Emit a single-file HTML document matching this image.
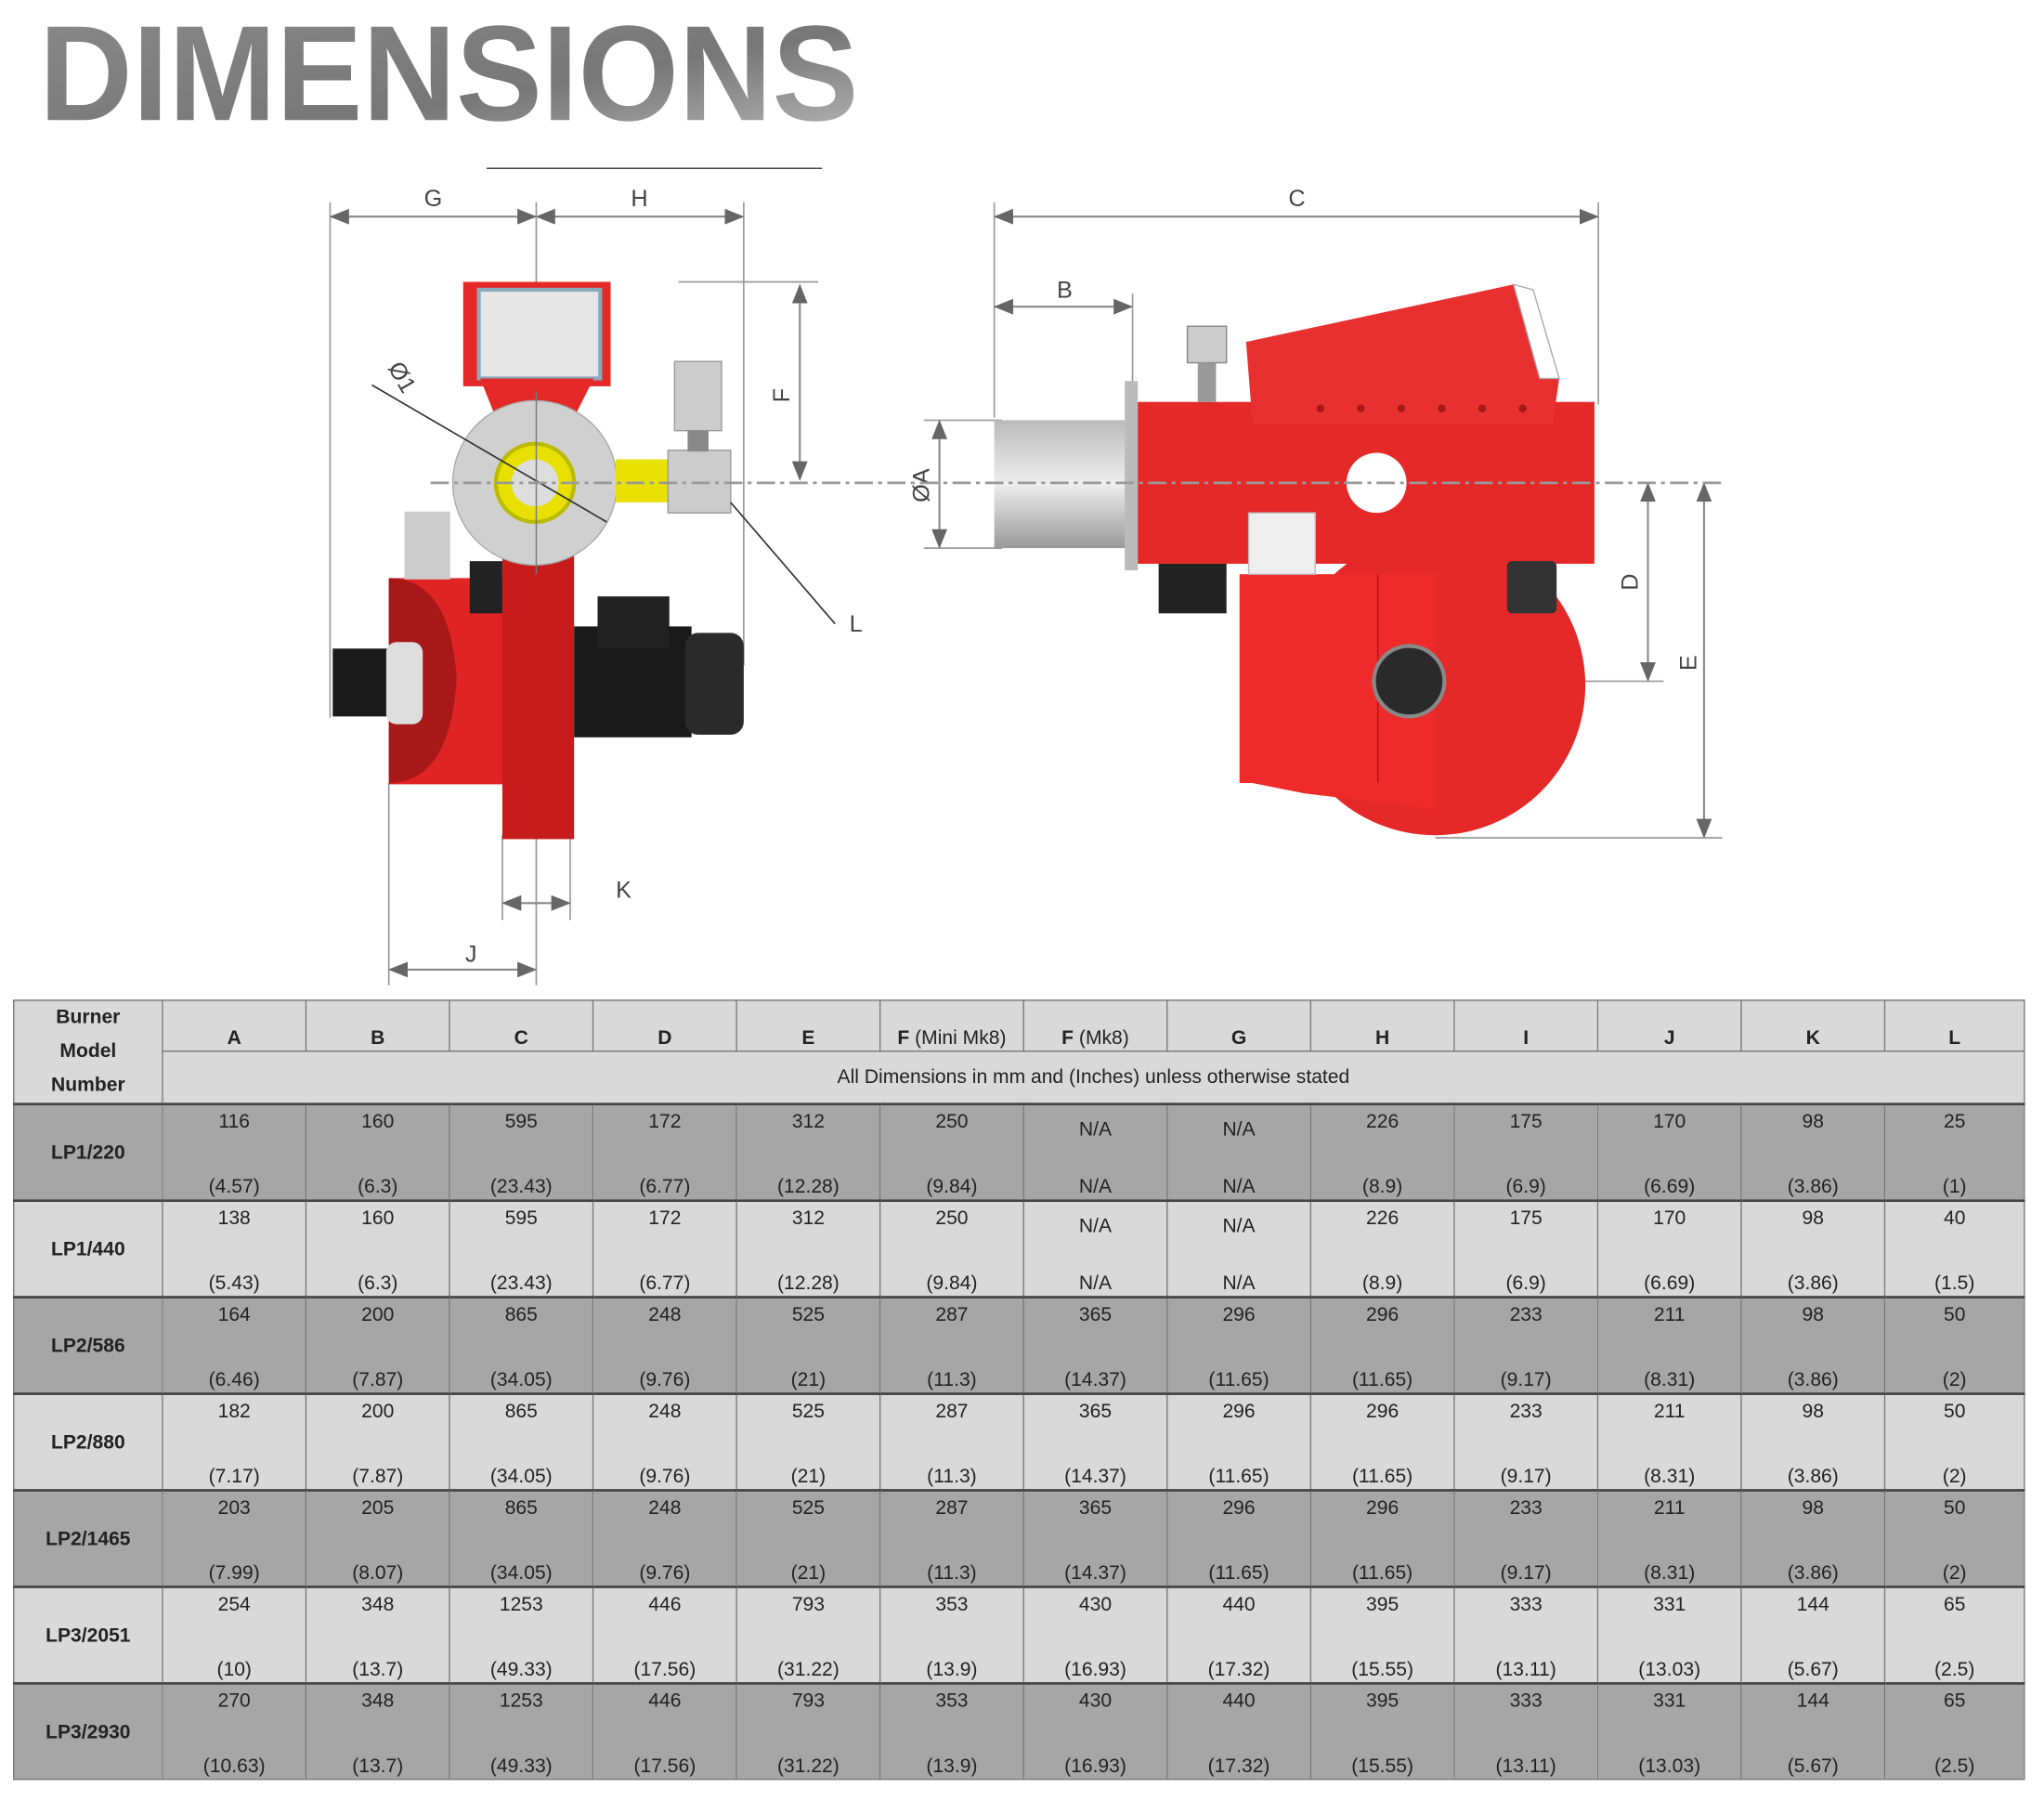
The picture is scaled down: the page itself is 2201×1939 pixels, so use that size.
<!DOCTYPE html>
<html><head><meta charset="utf-8">
<style>
html,body{margin:0;padding:0;background:#fff;}
body{width:2201px;height:1937px;overflow:hidden;position:relative;}
#w{position:absolute;left:0;top:0;width:1560px;height:1380px;transform:scale(1.405);transform-origin:0 0;}
svg{position:absolute;left:0;top:0;}
table{position:absolute;left:10px;top:766px;width:1541px;table-layout:fixed;border-collapse:collapse;font-family:"Liberation Sans",sans-serif;font-size:15px;color:#222;}
td{border:1px solid #777;text-align:center;padding:0;overflow:hidden;white-space:nowrap;}
tr.h td{background:#d9d9d9;height:35px;font-weight:bold;vertical-align:bottom;padding-bottom:1px;}
tr.n td{background:#d9d9d9;height:36px;}
td.m{font-weight:bold;}
tr.d td{height:72px;border-top:2px solid #444;}
tr.dk td{background:#a6a6a6;}
tr.lt td{background:#d9d9d9;}
.v{display:flex;flex-direction:column;justify-content:space-between;padding:4px 0 1px;box-sizing:border-box;height:72px;}
</style></head><body><div id="w">
<svg width="1560" height="760" viewBox="0 0 1560 760" font-family="Liberation Sans, sans-serif">
<defs>
<linearGradient id="tg" x1="0" y1="0" x2="1" y2="1"><stop offset="0" stop-color="#8a8a8a"/><stop offset="0.6" stop-color="#777"/><stop offset="1" stop-color="#bbb"/></linearGradient>
<linearGradient id="cyl" x1="0" y1="0" x2="0" y2="1"><stop offset="0" stop-color="#bbb"/><stop offset="0.5" stop-color="#eee"/><stop offset="1" stop-color="#999"/></linearGradient>
<marker id="a" markerWidth="10" markerHeight="8" refX="9" refY="4" orient="auto-start-reverse"><path d="M0,0 L10,4 L0,8z" fill="#666"/></marker>
</defs>
<text x="30" y="92" font-size="104" font-weight="bold" fill="url(#tg)" textLength="628" lengthAdjust="spacingAndGlyphs">DIMENSIONS</text>
<line x1="373" y1="129" x2="630" y2="129" stroke="#444" stroke-width="1"/>
<g stroke="#999" stroke-width="1.2" fill="none">
<line x1="253" y1="155" x2="253" y2="550"/><line x1="411" y1="155" x2="411" y2="755"/><line x1="570" y1="155" x2="570" y2="510"/>
<line x1="298" y1="600" x2="298" y2="755"/><line x1="385" y1="640" x2="385" y2="705"/><line x1="437" y1="640" x2="437" y2="705"/>
<line x1="762" y1="155" x2="762" y2="320"/><line x1="1225" y1="155" x2="1225" y2="310"/><line x1="868" y1="225" x2="868" y2="300"/>
<line x1="520" y1="216" x2="627" y2="216"/><line x1="708" y1="322" x2="768" y2="322"/><line x1="708" y1="420" x2="768" y2="420"/>
<line x1="1100" y1="522" x2="1275" y2="522"/><line x1="1100" y1="642" x2="1320" y2="642"/>
</g>
<g stroke="#888" stroke-width="1.5" marker-start="url(#a)" marker-end="url(#a)">
<line x1="254" y1="166" x2="410" y2="166"/><line x1="412" y1="166" x2="569" y2="166"/>
<line x1="763" y1="166" x2="1224" y2="166"/><line x1="763" y1="235" x2="867" y2="235"/>
<line x1="613" y1="219" x2="613" y2="367"/><line x1="720" y1="323" x2="720" y2="419"/>
<line x1="1263" y1="371" x2="1263" y2="521"/><line x1="1306" y1="371" x2="1306" y2="641"/>
<line x1="386" y1="692" x2="436" y2="692"/><line x1="299" y1="743" x2="410" y2="743"/>
</g>
<g font-size="18" fill="#444" text-anchor="middle">
<text x="332" y="158">G</text><text x="490" y="158">H</text><text x="994" y="158">C</text><text x="816" y="228">B</text>
<text x="478" y="688">K</text><text x="361" y="737">J</text><text x="656" y="484">L</text>
<text transform="translate(605,303) rotate(-90)">F</text><text transform="translate(712,372) rotate(-90)">ØA</text>
<text transform="translate(1255,446) rotate(-90)">D</text><text transform="translate(1300,508) rotate(-90)">E</text>
<text transform="translate(303,292) rotate(60)">Ø1</text>
</g>
<rect x="298" y="443" width="90" height="158" fill="#e02424"/>
<path d="M298,443 Q345,443 350,520 Q345,600 298,600z" fill="#a81818"/>
<rect x="385" y="425" width="55" height="218" fill="#c81c1c"/>
<rect x="440" y="480" width="90" height="85" fill="#1a1a1a"/><rect x="458" y="457" width="55" height="40" fill="#222"/><rect x="525" y="485" width="45" height="78" rx="10" fill="#2a2a2a"/>
<rect x="255" y="497" width="43" height="52" fill="#1a1a1a"/><rect x="296" y="492" width="28" height="63" rx="8" fill="#ddd"/>
<rect x="310" y="392" width="35" height="52" fill="#ccc"/><rect x="360" y="430" width="25" height="40" fill="#222"/>
<rect x="355" y="216" width="113" height="80" fill="#e52828"/><rect x="367" y="222" width="93" height="68" fill="#e6e6e6" stroke="#8ab" stroke-width="3"/>
<path d="M368,290 L455,290 L440,320 L380,320z" fill="#e52828"/>
<circle cx="410" cy="370" r="63" fill="#d0d0d0" stroke="#aaa"/>
<circle cx="410" cy="370" r="30" fill="#e8e000" stroke="#bb0" stroke-width="3"/><circle cx="410" cy="370" r="18" fill="#ddd"/>
<rect x="472" y="352" width="40" height="33" fill="#e8e000"/><rect x="512" y="345" width="48" height="48" fill="#ccc" stroke="#999"/>
<rect x="517" y="277" width="36" height="53" fill="#ccc" stroke="#999"/><rect x="527" y="330" width="16" height="16" fill="#888"/>
<line x1="285" y1="295" x2="465" y2="400" stroke="#333" stroke-width="1.2"/><line x1="560" y1="385" x2="640" y2="478" stroke="#333" stroke-width="1.2"/>
<line x1="411" y1="300" x2="411" y2="440" stroke="#777" stroke-width="1"/>
<rect x="762" y="322" width="106" height="98" fill="url(#cyl)"/>
<rect x="862" y="292" width="10" height="145" fill="#bbb"/>
<circle cx="1100" cy="525" r="115" fill="#e52828"/>
<rect x="950" y="440" width="150" height="160" fill="#ee2a2a"/>
<path d="M950,598 L1100,598 L1100,620 L1000,608z" fill="#ee2a2a"/>
<line x1="1056" y1="440" x2="1056" y2="600" stroke="#a81818"/>
<circle cx="1080" cy="522" r="27" fill="#2a2a2a" stroke="#888" stroke-width="3"/>
<rect x="872" y="308" width="350" height="124" fill="#e52828"/>
<path d="M955,262 L1160,218 L1175,222 L1195,290 L1190,325 L960,325z" fill="#e83030"/>
<path d="M1160,218 L1175,222 L1195,290 L1180,290z" fill="#fff" stroke="#aaa"/>
<g fill="#a81818"><circle cx="1012" cy="313" r="3"/><circle cx="1043" cy="313" r="3"/><circle cx="1074" cy="313" r="3"/><circle cx="1105" cy="313" r="3"/><circle cx="1136" cy="313" r="3"/><circle cx="1167" cy="313" r="3"/></g>
<circle cx="1055" cy="370" r="23" fill="#fff"/>
<rect x="957" y="393" width="51" height="47" fill="#eee" stroke="#bbb"/>
<rect x="1155" y="430" width="38" height="40" rx="4" fill="#333"/>
<rect x="888" y="432" width="52" height="38" fill="#222"/>
<rect x="910" y="250" width="30" height="28" fill="#ccc" stroke="#888"/><rect x="918" y="278" width="14" height="30" fill="#999"/>
<line x1="330" y1="370" x2="1320" y2="370" stroke="#999" stroke-width="2" stroke-dasharray="14,4,3,4"/>
</svg>
<table>
<colgroup><col style="width:114px"><col span="12" style="width:110px"><col style="width:107px"></colgroup>
<tr class="h"><td class="m" rowspan="2" style="vertical-align:middle;line-height:26px;padding:0">Burner<br>Model<br>Number</td><td>A</td><td>B</td><td>C</td><td>D</td><td>E</td><td style="font-weight:normal"><b>F</b> (Mini Mk8)</td><td style="font-weight:normal"><b>F</b> (Mk8)</td><td>G</td><td>H</td><td>I</td><td>J</td><td>K</td><td>L</td></tr>
<tr class="n"><td colspan="13">All Dimensions in mm and (Inches) unless otherwise stated</td></tr>
<tr class="d dk"><td class="m">LP1/220</td><td><div class="v"><span>116</span><span>(4.57)</span></div></td><td><div class="v"><span>160</span><span>(6.3)</span></div></td><td><div class="v"><span>595</span><span>(23.43)</span></div></td><td><div class="v"><span>172</span><span>(6.77)</span></div></td><td><div class="v"><span>312</span><span>(12.28)</span></div></td><td><div class="v"><span>250</span><span>(9.84)</span></div></td><td><div class="v"><span style="margin-top:6px">N/A</span><span>N/A</span></div></td><td><div class="v"><span style="margin-top:6px">N/A</span><span>N/A</span></div></td><td><div class="v"><span>226</span><span>(8.9)</span></div></td><td><div class="v"><span>175</span><span>(6.9)</span></div></td><td><div class="v"><span>170</span><span>(6.69)</span></div></td><td><div class="v"><span>98</span><span>(3.86)</span></div></td><td><div class="v"><span>25</span><span>(1)</span></div></td></tr>
<tr class="d lt"><td class="m">LP1/440</td><td><div class="v"><span>138</span><span>(5.43)</span></div></td><td><div class="v"><span>160</span><span>(6.3)</span></div></td><td><div class="v"><span>595</span><span>(23.43)</span></div></td><td><div class="v"><span>172</span><span>(6.77)</span></div></td><td><div class="v"><span>312</span><span>(12.28)</span></div></td><td><div class="v"><span>250</span><span>(9.84)</span></div></td><td><div class="v"><span style="margin-top:6px">N/A</span><span>N/A</span></div></td><td><div class="v"><span style="margin-top:6px">N/A</span><span>N/A</span></div></td><td><div class="v"><span>226</span><span>(8.9)</span></div></td><td><div class="v"><span>175</span><span>(6.9)</span></div></td><td><div class="v"><span>170</span><span>(6.69)</span></div></td><td><div class="v"><span>98</span><span>(3.86)</span></div></td><td><div class="v"><span>40</span><span>(1.5)</span></div></td></tr>
<tr class="d dk"><td class="m">LP2/586</td><td><div class="v"><span>164</span><span>(6.46)</span></div></td><td><div class="v"><span>200</span><span>(7.87)</span></div></td><td><div class="v"><span>865</span><span>(34.05)</span></div></td><td><div class="v"><span>248</span><span>(9.76)</span></div></td><td><div class="v"><span>525</span><span>(21)</span></div></td><td><div class="v"><span>287</span><span>(11.3)</span></div></td><td><div class="v"><span>365</span><span>(14.37)</span></div></td><td><div class="v"><span>296</span><span>(11.65)</span></div></td><td><div class="v"><span>296</span><span>(11.65)</span></div></td><td><div class="v"><span>233</span><span>(9.17)</span></div></td><td><div class="v"><span>211</span><span>(8.31)</span></div></td><td><div class="v"><span>98</span><span>(3.86)</span></div></td><td><div class="v"><span>50</span><span>(2)</span></div></td></tr>
<tr class="d lt"><td class="m">LP2/880</td><td><div class="v"><span>182</span><span>(7.17)</span></div></td><td><div class="v"><span>200</span><span>(7.87)</span></div></td><td><div class="v"><span>865</span><span>(34.05)</span></div></td><td><div class="v"><span>248</span><span>(9.76)</span></div></td><td><div class="v"><span>525</span><span>(21)</span></div></td><td><div class="v"><span>287</span><span>(11.3)</span></div></td><td><div class="v"><span>365</span><span>(14.37)</span></div></td><td><div class="v"><span>296</span><span>(11.65)</span></div></td><td><div class="v"><span>296</span><span>(11.65)</span></div></td><td><div class="v"><span>233</span><span>(9.17)</span></div></td><td><div class="v"><span>211</span><span>(8.31)</span></div></td><td><div class="v"><span>98</span><span>(3.86)</span></div></td><td><div class="v"><span>50</span><span>(2)</span></div></td></tr>
<tr class="d dk"><td class="m">LP2/1465</td><td><div class="v"><span>203</span><span>(7.99)</span></div></td><td><div class="v"><span>205</span><span>(8.07)</span></div></td><td><div class="v"><span>865</span><span>(34.05)</span></div></td><td><div class="v"><span>248</span><span>(9.76)</span></div></td><td><div class="v"><span>525</span><span>(21)</span></div></td><td><div class="v"><span>287</span><span>(11.3)</span></div></td><td><div class="v"><span>365</span><span>(14.37)</span></div></td><td><div class="v"><span>296</span><span>(11.65)</span></div></td><td><div class="v"><span>296</span><span>(11.65)</span></div></td><td><div class="v"><span>233</span><span>(9.17)</span></div></td><td><div class="v"><span>211</span><span>(8.31)</span></div></td><td><div class="v"><span>98</span><span>(3.86)</span></div></td><td><div class="v"><span>50</span><span>(2)</span></div></td></tr>
<tr class="d lt"><td class="m">LP3/2051</td><td><div class="v"><span>254</span><span>(10)</span></div></td><td><div class="v"><span>348</span><span>(13.7)</span></div></td><td><div class="v"><span>1253</span><span>(49.33)</span></div></td><td><div class="v"><span>446</span><span>(17.56)</span></div></td><td><div class="v"><span>793</span><span>(31.22)</span></div></td><td><div class="v"><span>353</span><span>(13.9)</span></div></td><td><div class="v"><span>430</span><span>(16.93)</span></div></td><td><div class="v"><span>440</span><span>(17.32)</span></div></td><td><div class="v"><span>395</span><span>(15.55)</span></div></td><td><div class="v"><span>333</span><span>(13.11)</span></div></td><td><div class="v"><span>331</span><span>(13.03)</span></div></td><td><div class="v"><span>144</span><span>(5.67)</span></div></td><td><div class="v"><span>65</span><span>(2.5)</span></div></td></tr>
<tr class="d dk"><td class="m">LP3/2930</td><td><div class="v"><span>270</span><span>(10.63)</span></div></td><td><div class="v"><span>348</span><span>(13.7)</span></div></td><td><div class="v"><span>1253</span><span>(49.33)</span></div></td><td><div class="v"><span>446</span><span>(17.56)</span></div></td><td><div class="v"><span>793</span><span>(31.22)</span></div></td><td><div class="v"><span>353</span><span>(13.9)</span></div></td><td><div class="v"><span>430</span><span>(16.93)</span></div></td><td><div class="v"><span>440</span><span>(17.32)</span></div></td><td><div class="v"><span>395</span><span>(15.55)</span></div></td><td><div class="v"><span>333</span><span>(13.11)</span></div></td><td><div class="v"><span>331</span><span>(13.03)</span></div></td><td><div class="v"><span>144</span><span>(5.67)</span></div></td><td><div class="v"><span>65</span><span>(2.5)</span></div></td></tr>
</table>
</div></body></html>
